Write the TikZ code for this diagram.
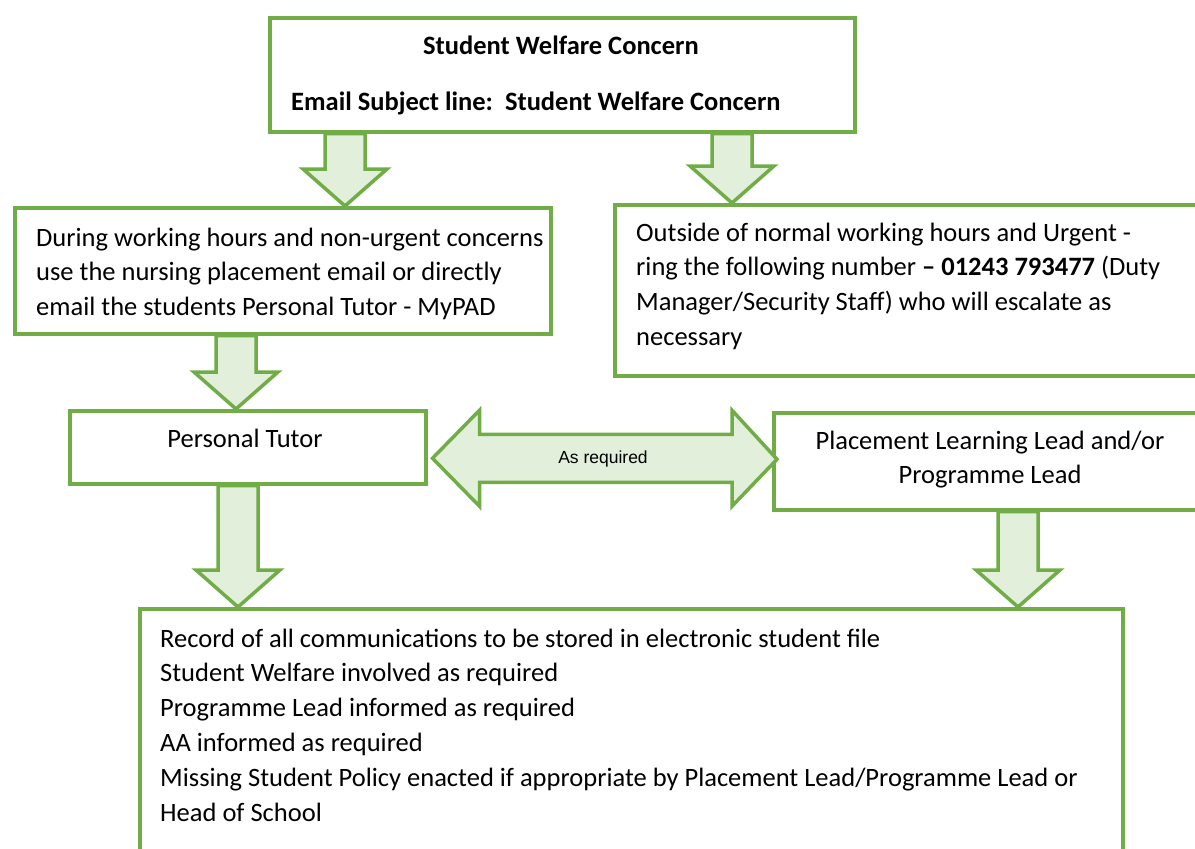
\documentclass[tikz,border=0pt]{standalone}
\usepackage{fontspec}
\setmainfont{Carlito}
\newfontfamily\arialfont{Liberation Sans}
\usetikzlibrary{calc}
\definecolor{leafgreen}{RGB}{112,173,71}
\definecolor{mintfill}{RGB}{226,239,218}

% downward block arrow: #1 = start of the shaft, #2 = tip (same x)
\newcommand\dropblock[2]{%
  \draw[blockarrow] let \p1=(#1), \p2=(#2) in
    (\x1-20pt,\y1) -- (\x1+20pt,\y1) -- (\x1+20pt,\y2+37pt) -- (\x1+42pt,\y2+37pt)
    -- (\x1,\y2) -- (\x1-42pt,\y2+37pt) -- (\x1-20pt,\y2+37pt) -- cycle;}

\begin{document}
\begin{tikzpicture}[x=1pt,y=-1pt,
  flowbox/.style={draw=leafgreen, line width=3.5pt, rectangle, inner sep=0pt,
    anchor=north west, fill=white},
  blockarrow/.style={draw=leafgreen, fill=mintfill, line width=3.5pt, line join=miter},
  bodytext/.style={inner sep=0pt, align=left, font=\fontsize{26.5}{34.8}\selectfont},
  smalllabel/.style={inner sep=0pt, font=\arialfont\fontsize{17.5}{21}\selectfont}]
\useasboundingbox (0,0) rectangle (1195,849);
\clip (0,0) rectangle (1195,849);

% boxes
\node[flowbox, minimum width=585pt, minimum height=114pt] (concern) at (268,16) {};
\node[flowbox, minimum width=536pt, minimum height=126pt] (workhours) at (13,206) {};
\node[flowbox, minimum width=600pt, minimum height=171pt] (urgent) at (613,203) {};
\node[flowbox, minimum width=356pt, minimum height=73pt] (tutor) at (68,409) {};
\node[flowbox, minimum width=440pt, minimum height=97pt] (lead) at (772,411) {};
\node[flowbox, minimum width=983pt, minimum height=260pt] (record) at (138,607) {};

% block arrows between the boxes
\coordinate (a1) at ($(concern.south west)+(77,0)$);
\dropblock{a1}{a1 |- workhours.north}
\coordinate (a2) at ($(concern.south west)+(464,0)$);
\dropblock{a2}{a2 |- urgent.north}
\coordinate (a3) at ($(workhours.south west)+(223,0)$);
\dropblock{a3}{a3 |- tutor.north}
\coordinate (a4) at ($(tutor.south west)+(170,0)$);
\dropblock{a4}{a4 |- record.north}
\coordinate (a5) at ($(lead.south west)+(246,0)$);
\dropblock{a5}{a5 |- record.north}

% two-way arrow between tutor and lead
\coordinate (dl) at ($(tutor.east)+(5,11)$);
\coordinate (dr) at ($(lead.west)+(5,-2)$);
\draw[blockarrow] let \p1=(dl), \p2=(dr) in
  (\x1,\y1) -- (\x1+47pt,\y1+48pt) -- (\x1+47pt,\y1+24pt) -- (\x2-45pt,\y1+24pt)
  -- (\x2-45pt,\y1+48pt) -- (\x2,\y2) -- (\x2-45pt,\y1-48pt) -- (\x2-45pt,\y1-24pt)
  -- (\x1+47pt,\y1-24pt) -- (\x1+47pt,\y1-48pt) -- cycle;
\node[smalllabel, anchor=base] (asreq) at (603,463) {As required};

% texts
\node[bodytext, anchor=base] (title) at (561,54) {\textbf{Student Welfare Concern}};
\node[bodytext, anchor=base west] (subject) at (291,110)
  {\textbf{Email Subject line:\ \ Student Welfare Concern}};
\node[bodytext, anchor=north west] (worktext) at (36,221.6)
  {\strut During working hours and non-urgent concerns\\
   use the nursing placement email or directly\\
   email the students Personal Tutor - MyPAD};
\node[bodytext, anchor=north west] (urgenttext) at (636,216.6)
  {\strut Outside of normal working hours and Urgent -\\
   ring the following number \textbf{– 01243 793477} (Duty\\
   Manager/Security Staff) who will escalate as\\
   necessary};
\node[bodytext, anchor=base] (tutortext) at (245,447) {Personal Tutor};
\node[bodytext, align=center, anchor=north] (leadtext) at (990,424.6)
  {\strut Placement Learning Lead and/or\\ Programme Lead};
\node[bodytext, anchor=north west] (recordtext) at (160,622.6)
  {\strut Record of all communications to be stored in electronic student file\\
   Student Welfare involved as required\\
   Programme Lead informed as required\\
   AA informed as required\\
   Missing Student Policy enacted if appropriate by Placement Lead/Programme Lead or\\
   Head of School};
\end{tikzpicture}
\end{document}
